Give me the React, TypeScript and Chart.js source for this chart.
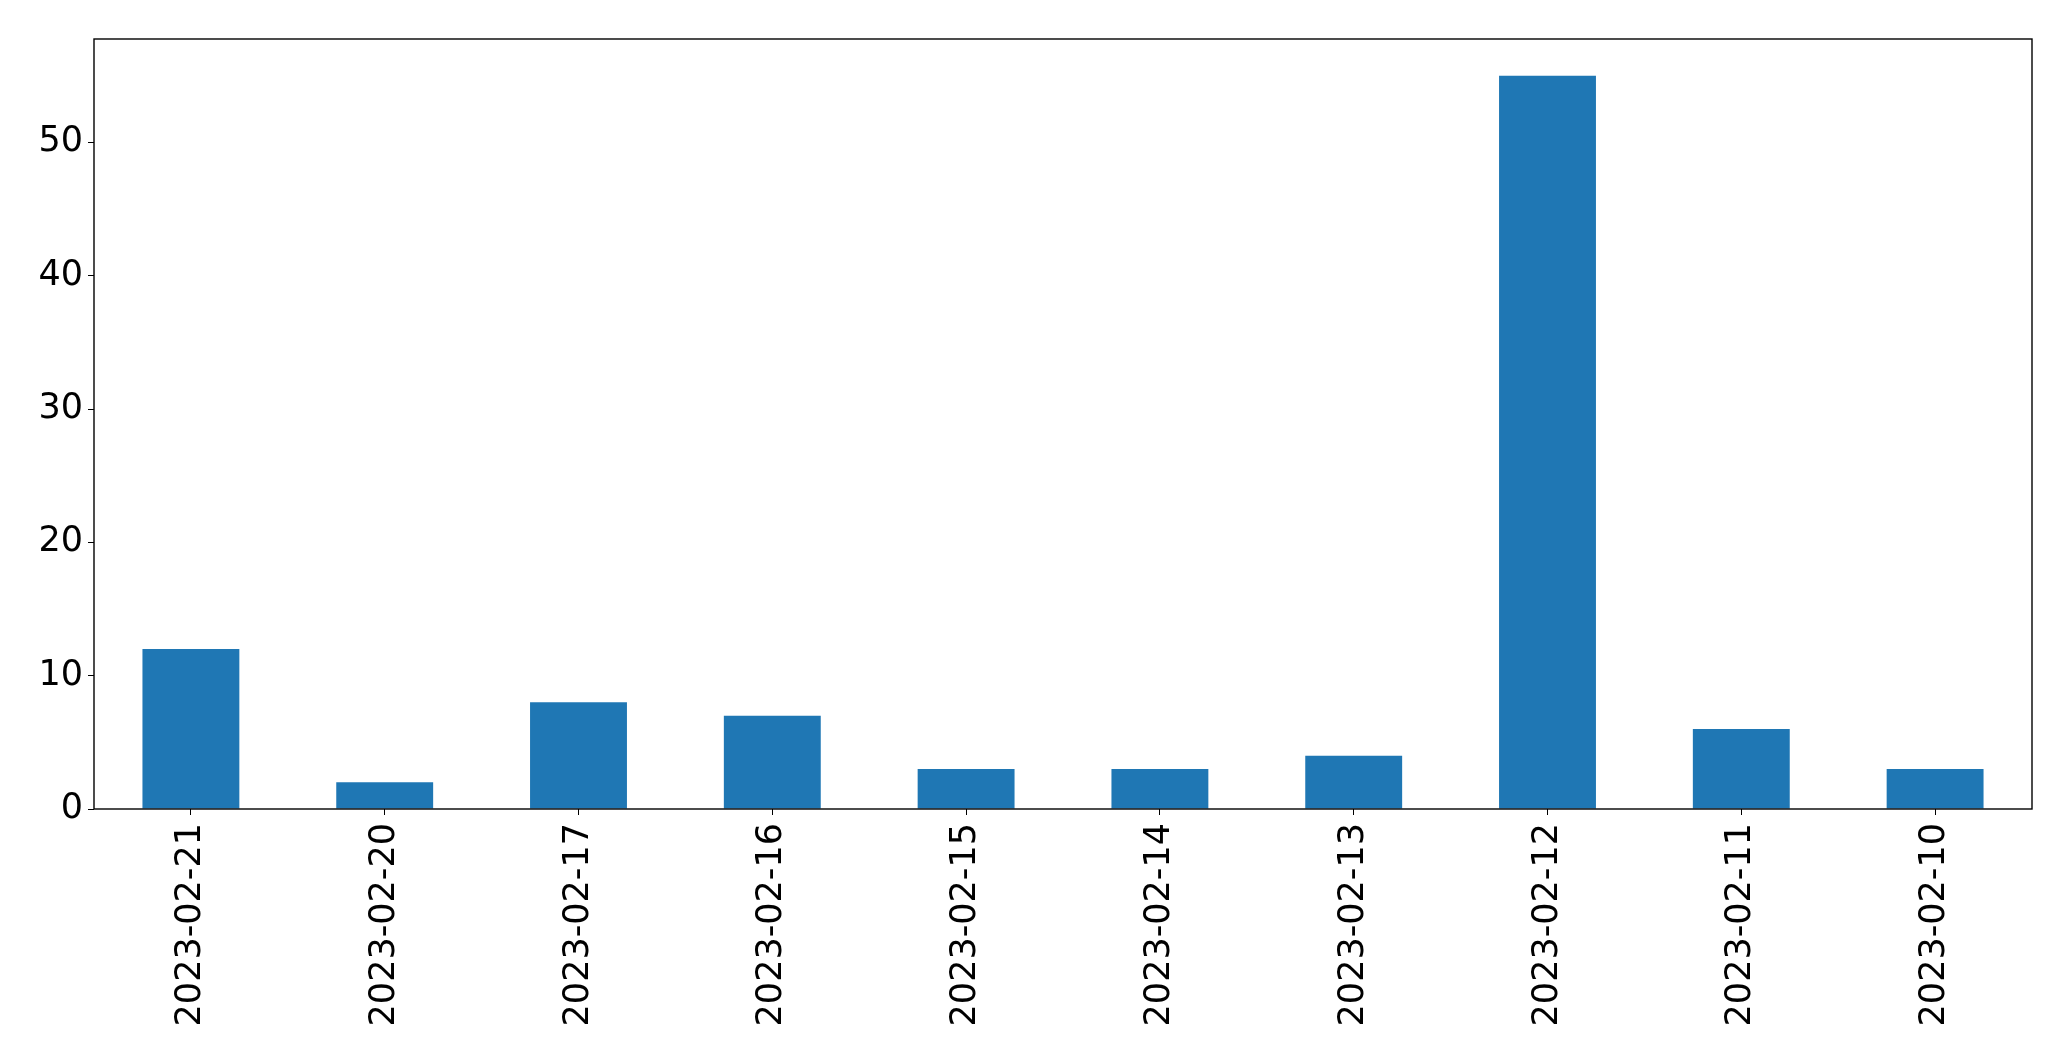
import React, { useEffect, useRef } from "react";
import { Chart, registerables } from "chart.js";

Chart.register(...registerables);

const categories = [
  "2023-02-21",
  "2023-02-20",
  "2023-02-17",
  "2023-02-16",
  "2023-02-15",
  "2023-02-14",
  "2023-02-13",
  "2023-02-12",
  "2023-02-11",
  "2023-02-10",
];
const values = [12, 2, 8, 7, 3, 3, 4, 55, 6, 3];
const yMax = 57.75;
const yStep = 10;

const FONT = { family: "DejaVu Sans", size: 35 };

const framePlugin = {
  id: "frame",
  afterDraw(chart: any) {
    const { ctx, chartArea } = chart;
    ctx.save();
    ctx.strokeStyle = "#000";
    ctx.lineWidth = 1.4;
    ctx.strokeRect(chartArea.left, chartArea.top, chartArea.right - chartArea.left, chartArea.bottom - chartArea.top);
    ctx.restore();
  },
};

export default function App() {
  const ref = useRef<HTMLCanvasElement | null>(null);
  useEffect(() => {
    document.body.style.margin = "0";
    const chart = new Chart(ref.current as HTMLCanvasElement, {
      type: "bar",
      data: {
        labels: categories,
        datasets: [
          {
            data: values,
            backgroundColor: "#1f77b4",
            categoryPercentage: 1,
            barPercentage: 0.5,
          },
        ],
      },
      options: {
        animation: false,
        responsive: false,
        layout: { padding: { top: 39, right: 39, left: 0, bottom: 0 } },
        plugins: { legend: { display: false }, tooltip: { enabled: false } },
        scales: {
          x: {
            offset: true,
            grid: { display: true, drawOnChartArea: false, drawTicks: true, tickLength: 6, color: "#000", offset: false },
            border: { display: false },
            ticks: { color: "#000", font: FONT, minRotation: 90, maxRotation: 90, padding: 8, autoSkip: false },
            afterFit(scale: any) {
              scale.height = 252;
            },
          },
          y: {
            min: 0,
            max: yMax,
            grid: { display: true, drawOnChartArea: false, drawTicks: true, tickLength: 6, color: "#000" },
            border: { display: false },
            ticks: { color: "#000", font: FONT, stepSize: yStep, includeBounds: false, padding: 5 },
            afterFit(scale: any) {
              scale.width = 94;
            },
          },
        },
      },
      plugins: [framePlugin],
    } as any);
    return () => chart.destroy();
  }, []);
  return (
    <div style={{ width: 2071, height: 1061, background: "#fff" }}>
      <canvas ref={ref} width={2071} height={1061} style={{ display: "block" }} />
    </div>
  );
}
